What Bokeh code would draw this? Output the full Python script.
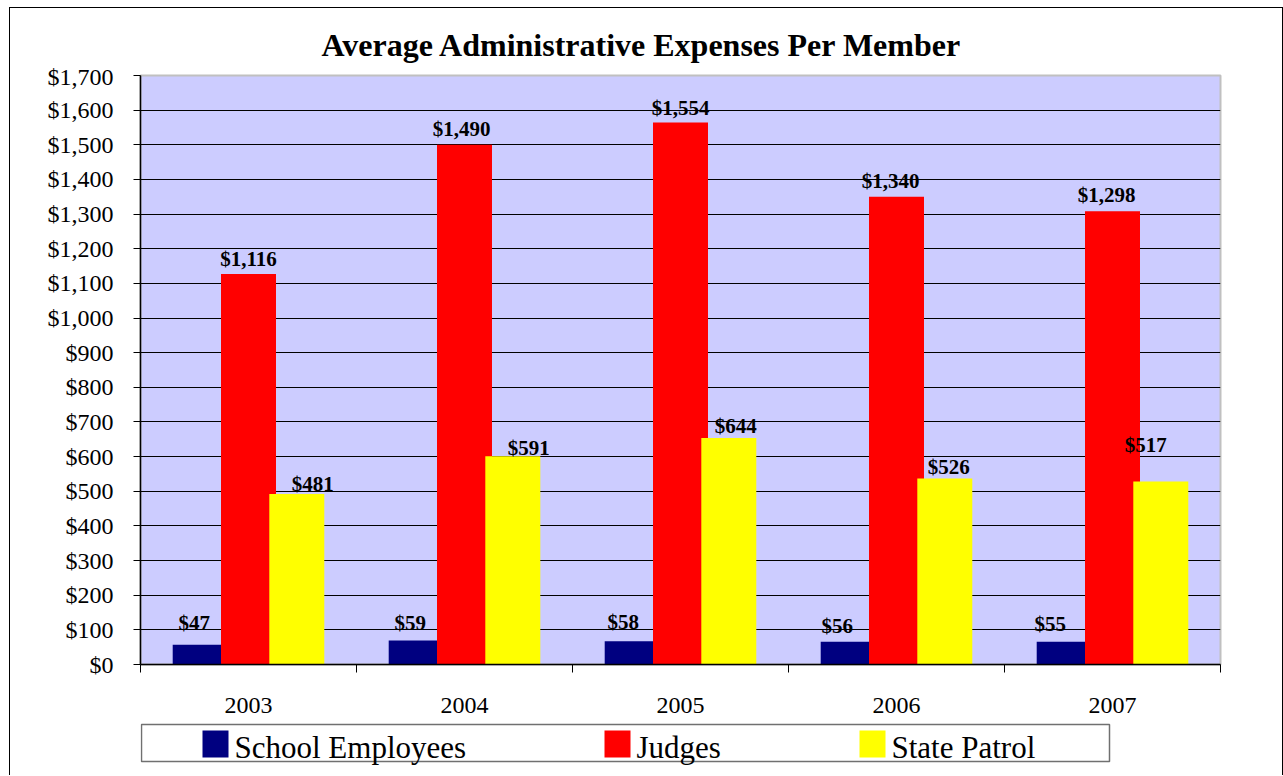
from bokeh.plotting import figure
from bokeh.layouts import column
from bokeh.models import (Range1d, FixedTicker, NumeralTickFormatter, ColumnDataSource)
from bokeh.core.properties import value
from bokeh.embed import file_html
from bokeh.resources import INLINE

# ---------------- data ----------------
years = ["2003", "2004", "2005", "2006", "2007"]
series_names = ["School Employees", "Judges", "State Patrol"]
# plotted bar heights (as drawn)
school = [57, 69, 67, 66, 66]
judges = [1127, 1500, 1564, 1350, 1308]
patrol = [492, 601, 654, 537, 528]
# data label texts (as printed)
school_labels = ["$47", "$59", "$58", "$56", "$55"]
judges_labels = ["$1,116", "$1,490", "$1,554", "$1,340", "$1,298"]
patrol_labels = ["$481", "$591", "$644", "$526", "$517"]
y_ticks = list(range(0, 1800, 100))
title_text = "Average Administrative Expenses Per Member"

# ---------------- styles / layout (page pixels) ----------------
colors = ["#000080", "#FF0000", "#FFFF00"]
bar_offsets = [-0.2236, 0.0, 0.2236]
bar_width = 0.2546
# label nudges in pixels (manual placements of the original), label middle vs bar top
label_dx = [[-6, -6, -9, -11, -14], [0, -3, 0, -6, -6], [16, 16, 7, 4, -15]]
label_dy = [[-22, -18, -19, -16, -18], [-15, -16, -15, -16, -16], [-10, -8, -12, -11, -37]]
SERIF = "Liberation Serif"

X0, Y0 = 10, 8            # content origin on the page (inside the 1px border)
W = 1272                  # content width -> right border at x = 1282
FL, FT, FR, FB = 140, 75, 1220, 664   # plot area edges
BL, BR = FL - X0, X0 + W - FR         # left / right borders shared by all strips
T_TOP, T_BOT = Y0, 63                 # title strip
M_TOP, M_BOT = 63, 722                # main chart strip
L_TOP, L_BOT = 722, 775               # legend strip
LB = (133, 724, 1109, 761)            # legend box: left, top, right, bottom
legend_x = [202, 604, 859]


def strip(top, bottom):
    f = figure(width=W, height=bottom - top, output_backend="svg", toolbar_location=None,
               x_range=Range1d(FL, FR), y_range=Range1d(bottom, top),
               x_axis_location=None, y_axis_location=None, title=None,
               min_border_left=BL, min_border_right=BR,
               min_border_top=0, min_border_bottom=0)
    f.grid.visible = False
    f.outline_line_color = None
    f.background_fill_color = "white"
    f.border_fill_color = "white"
    return f


# ---------------- title strip ----------------
t = strip(T_TOP, T_BOT)
t.text(x=[641.5], y=[44.5], text=[title_text], text_align="center",
       text_baseline="middle", text_font=value(SERIF), text_font_style="bold",
       text_font_size="32px", text_color="black")

# ---------------- main chart ----------------
p = figure(width=W, height=M_BOT - M_TOP, output_backend="svg",
           toolbar_location=None,
           x_range=Range1d(0, len(years)), y_range=Range1d(0, 1700),
           min_border_left=BL, min_border_right=BR,
           min_border_top=FT - M_TOP, min_border_bottom=M_BOT - FB,
           title=None)

p.background_fill_color = "#CCCCFF"
p.border_fill_color = "white"
p.outline_line_color = "#C0C0C0"
p.outline_line_width = 2

p.xgrid.visible = False
p.ygrid.ticker = FixedTicker(ticks=y_ticks[1:-1])
p.ygrid.grid_line_color = "black"
p.ygrid.grid_line_width = 1

p.yaxis.ticker = FixedTicker(ticks=y_ticks)
p.yaxis.formatter = NumeralTickFormatter(format="$0,0")
p.yaxis.major_tick_in = 0
p.yaxis.major_tick_out = 7
p.yaxis.minor_tick_line_color = None
p.yaxis.major_label_standoff = 20
p.yaxis.major_label_text_font = SERIF
p.yaxis.major_label_text_font_size = "24px"
p.yaxis.major_label_text_color = "black"
p.yaxis.axis_line_color = "black"
p.yaxis.axis_line_width = 1.5
p.yaxis.major_tick_line_color = "black"

centers = [i + 0.5 for i in range(len(years))]
p.xaxis.ticker = FixedTicker(ticks=centers, minor_ticks=list(range(len(years) + 1)))
p.xaxis.major_label_overrides = {c: y for c, y in zip(centers, years)}
p.xaxis.major_tick_line_color = None
p.xaxis.major_tick_in = 0
p.xaxis.major_tick_out = 0
p.xaxis.minor_tick_line_color = "black"
p.xaxis.minor_tick_in = 0
p.xaxis.minor_tick_out = 8
p.xaxis.major_label_standoff = 25
p.xaxis.major_label_text_font = SERIF
p.xaxis.major_label_text_font_size = "24px"
p.xaxis.major_label_text_color = "black"
p.xaxis.axis_line_color = "black"
p.xaxis.axis_line_width = 1.5

all_vals = [school, judges, patrol]
all_labels = [school_labels, judges_labels, patrol_labels]
for k, (vals, labs) in enumerate(zip(all_vals, all_labels)):
    xs = [c + bar_offsets[k] for c in centers]
    src = ColumnDataSource(dict(x=xs, top=vals, text=labs,
                                dx=label_dx[k], dy=label_dy[k]))
    p.vbar(x="x", top="top", bottom=0, width=bar_width, source=src,
           fill_color=colors[k], line_color=None)
    p.text(x="x", y="top", text="text", x_offset="dx", y_offset="dy", source=src,
           text_align="center", text_baseline="middle",
           text_font=value(SERIF), text_font_style="bold",
           text_font_size="21px", text_color="black")

# ---------------- legend strip ----------------
leg = strip(L_TOP, L_BOT)
leg.quad(left=[max(LB[0], FL) + 1], right=[LB[2]], top=[LB[1]], bottom=[LB[3]],
         fill_color="white", line_color="#707070", line_width=1.5)
leg.quad(left=legend_x, right=[x + 26 for x in legend_x], top=[730] * 3, bottom=[757] * 3,
         fill_color=colors, line_color=None)
leg.text(x=[x + 32 for x in legend_x], y=[747] * 3, text=series_names,
         text_align="left", text_baseline="middle", text_font=value(SERIF),
         text_font_size="31px", text_color="black")

layout = column(t, p, leg, spacing=0,
                styles={"margin-left": f"{X0 - 1}px", "margin-top": f"{Y0 - 1}px",
                        "border-left": "1px solid black",
                        "border-top": "1px solid black",
                        "border-right": "1px solid black"})

open("out.html", "w").write(file_html(layout, INLINE))
